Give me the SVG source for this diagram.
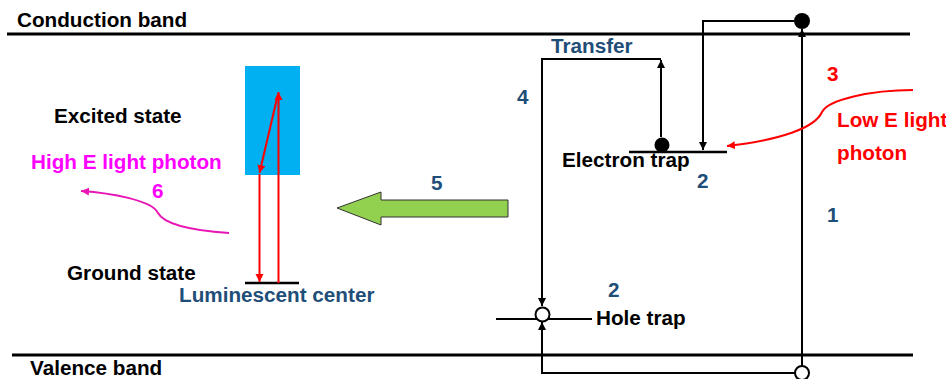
<svg xmlns="http://www.w3.org/2000/svg" width="946" height="379" viewBox="0 0 946 379">
<defs>
<style>
text{font-family:"Liberation Sans",Arial,sans-serif;font-weight:bold;font-size:20.7px}
.k{fill:#000}
.b{fill:#1F4E79}
.r{fill:#FF0000}
.m{fill:#FF00FF}
.band{stroke:#000;stroke-width:3;fill:none}
.lvl{stroke:#000;stroke-width:2.5;fill:none}
.ln{stroke:#000;stroke-width:2;fill:none}
.rl{stroke:#FF0000;stroke-width:2;fill:none}
</style>
<marker id="ak" markerUnits="userSpaceOnUse" markerWidth="10" markerHeight="10" refX="8" refY="4" orient="auto"><path d="M0,0 L8,4 L0,8 z" fill="#000"/></marker>
<marker id="ar" markerUnits="userSpaceOnUse" markerWidth="10" markerHeight="10" refX="8" refY="4" orient="auto"><path d="M0,0 L8,4 L0,8 z" fill="#FF0000"/></marker>
<marker id="am" markerUnits="userSpaceOnUse" markerWidth="10" markerHeight="10" refX="8" refY="4" orient="auto"><path d="M0,0 L8,4 L0,8 z" fill="#E815B5"/></marker>
</defs>
<rect width="946" height="379" fill="#fff"/>
<g id="conduction-band">
<line class="band" x1="7" y1="34" x2="910" y2="34"/>
<text class="k" x="17" y="27">Conduction band</text>
</g>
<g id="valence-band">
<line class="band" x1="12" y1="355" x2="913" y2="355"/>
<text class="k" x="30" y="375">Valence band</text>
</g>
<g id="luminescent-center">
<rect x="245" y="66" width="55" height="109" fill="#00B0F0"/>
<line class="lvl" x1="245" y1="283" x2="299" y2="283"/>
<text class="k" x="54" y="123">Excited state</text>
<text class="k" x="67" y="280">Ground state</text>
<text class="b" x="179" y="302">Luminescent center</text>
</g>
<g id="electron-trap">
<line class="lvl" x1="629" y1="152" x2="727" y2="152"/>
<circle cx="662" cy="145" r="7.5" fill="#000"/>
<text class="k" x="562" y="167">Electron trap</text>
<text class="b" x="697" y="188">2</text>
</g>
<g id="hole-trap">
<line class="ln" x1="496" y1="319" x2="592" y2="319"/>
<circle cx="542.5" cy="314.5" r="7" fill="#fff" stroke="#000" stroke-width="2"/>
<text class="k" x="596" y="325">Hole trap</text>
<text class="b" x="608" y="297">2</text>
</g>
<g id="cb-electron">
<circle cx="802" cy="21" r="8" fill="#000"/>
</g>
<g id="vb-hole">
<circle cx="802" cy="373" r="7" fill="#fff" stroke="#000" stroke-width="2"/>
</g>
<g id="connectors">
<line class="ln" x1="802" y1="366" x2="802" y2="29" marker-end="url(#ak)"/>
<polyline class="ln" points="794,21 703,21 703,150" marker-end="url(#ak)"/>
<line class="ln" x1="661" y1="137" x2="661" y2="60" marker-end="url(#ak)"/>
<polyline class="ln" points="661,59 542,59 542,306" marker-end="url(#ak)"/>
<polyline class="ln" points="795,373 542,373 542,322" marker-end="url(#ak)"/>
<line class="rl" x1="278.5" y1="283" x2="278.5" y2="92" marker-end="url(#ar)"/>
<line class="rl" x1="278" y1="94" x2="259.5" y2="173" marker-end="url(#ar)"/>
<line class="rl" x1="259.5" y1="174" x2="259.5" y2="282" marker-end="url(#ar)"/>
<path class="rl" d="M913,90 C870,90 828,100 822,112 C815,128 780,140 727,146" marker-end="url(#ar)"/>
<path d="M229,233 C200,231 165,226 158,213 C152,200 110,193 81,191" fill="none" stroke="#E815B5" stroke-width="2" marker-end="url(#am)"/>
<polygon points="337,208 381,192 381,200 508,200 508,217 381,217 381,225" fill="#92D050" stroke="#333" stroke-width="1"/>
</g>
<g id="labels">
<text class="b" x="551" y="53">Transfer</text>
<text class="b" x="517" y="104">4</text>
<text class="b" x="431" y="190">5</text>
<text class="b" x="827" y="222">1</text>
<text class="r" x="827" y="81">3</text>
<text class="r" x="837" y="127">Low E light</text>
<text class="r" x="837" y="160">photon</text>
<text class="m" x="31" y="169">High E light photon</text>
<text class="m" x="152" y="198">6</text>
</g>
</svg>
